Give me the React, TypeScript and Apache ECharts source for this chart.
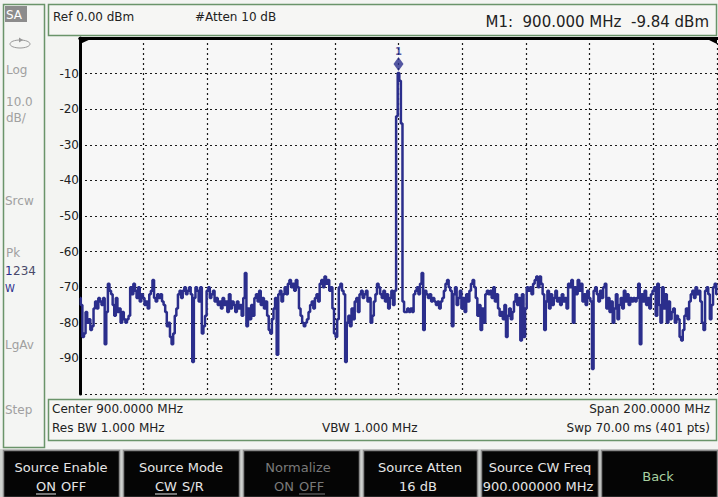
import React, { useEffect, useRef } from "react";
import * as echarts from "echarts";

// Frequency axis (MHz)
const startFreq = 800;
const stopFreq = 1000;
const freqStep = 0.5; // 401 points over 200 MHz
const freqTicks = [800, 820, 840, 860, 880, 900, 920, 940, 960, 980, 1000];

// Amplitude axis (dBm)
const refLevel = 0;
const bottomLevel = -100;
const dbTicks = [-10, -20, -30, -40, -50, -60, -70, -80, -90];

// Trace values (dBm), 401 points
const traceDbm = [
  -73, -75, -84, -83, -77, -80, -79, -82, -81, -76,
  -74, -76, -73, -74, -75, -73, -86, -77, -69, -71,
  -72, -75, -78, -73, -77, -76, -80, -77, -79, -80,
  -79, -78, -70, -72, -69, -71, -73, -70, -74, -72,
  -73, -75, -74, -76, -72, -71, -68, -73, -74, -72,
  -73, -72, -74, -75, -77, -81, -80, -84, -86, -83,
  -78, -76, -72, -71, -73, -71, -70, -72, -71, -70,
  -72, -91, -73, -70, -71, -74, -70, -83, -81, -78,
  -71, -70, -73, -72, -71, -74, -73, -75, -74, -76,
  -73, -75, -74, -77, -72, -76, -74, -75, -77, -74,
  -76, -75, -78, -73, -66, -81, -76, -79, -75, -78,
  -73, -72, -74, -71, -75, -73, -76, -74, -78, -82,
  -83, -79, -76, -73, -89, -72, -71, -74, -72, -70,
  -72, -69, -68, -70, -69, -71, -68, -70, -76, -78,
  -80, -81, -80, -79, -77, -75, -74, -76, -73, -72,
  -74, -69, -68, -70, -67, -69, -68, -71, -70, -76,
  -83, -84, -79, -70, -69, -71, -72, -91, -80, -78,
  -81, -76, -79, -74, -73, -77, -72, -71, -73, -72,
  -71, -74, -73, -80, -78, -74, -72, -69, -70, -72,
  -73, -71, -74, -72, -76, -73, -71, -75, -71, -22,
  -9.84, -12, -24, -74, -77, -77, -76, -77, -76, -77,
  -72, -71, -70, -72, -69, -66, -82, -71, -72, -73,
  -72, -74, -73, -74, -75, -74, -76, -74, -73, -71,
  -69, -68, -70, -71, -81, -72, -70, -75, -73, -71,
  -76, -73, -77, -72, -74, -71, -69, -68, -70, -73,
  -78, -75, -82, -76, -80, -72, -71, -72, -71, -73,
  -70, -74, -72, -76, -78, -77, -79, -75, -84, -78,
  -76, -79, -77, -74, -72, -75, -73, -85, -72, -84,
  -76, -70, -71, -70, -72, -69, -68, -67, -70, -67,
  -69, -72, -82, -74, -71, -76, -72, -75, -73, -71,
  -74, -73, -75, -72, -74, -73, -76, -69, -70, -68,
  -80, -70, -72, -68, -71, -69, -74, -72, -75, -71,
  -73, -74, -93, -71, -70, -72, -74, -71, -73, -70,
  -69, -76, -73, -77, -74, -80, -76, -72, -79, -75,
  -73, -76, -71, -74, -72, -75, -73, -74, -73, -74,
  -73, -69, -86, -72, -74, -71, -75, -73, -76, -72,
  -71, -70, -78, -69, -75, -80, -70, -76, -72, -80,
  -74, -79, -77, -76, -80, -78, -79, -84, -85, -82,
  -78, -76, -79, -74, -72, -71, -73, -70, -72, -71,
  -74, -80, -82, -71, -70, -72, -79, -75, -70, -69, -72,
];

// Marker
const markerFreq = 900;
const markerDbm = -9.84;
const markerName = "1";

// Header / footer texts
const headerLeft = "Ref 0.00 dBm";
const headerMid = "#Atten 10 dB";
const headerRight = "M1:  900.000 MHz  -9.84 dBm";
const infoCenter = "Center 900.0000 MHz";
const infoRbw = "Res BW 1.000 MHz";
const infoVbw = "VBW 1.000 MHz";
const infoSpan = "Span 200.0000 MHz";
const infoSwp = "Swp 70.00 ms (401 pts)";
const sideLabels = ["Log", "10.0", "dB/", "Srcw", "Pk", "LgAv", "Step"];

const TRACE = "#2b2e8c";
const GREEN = "#6a946a";
const FONT = "DejaVu Sans";

export default function App() {
  const ref = useRef<HTMLDivElement>(null);

  useEffect(() => {
    if (!ref.current) return;
    const chart = echarts.init(ref.current, undefined, { renderer: "svg" });
    const traceData = traceDbm.map((v, i) => [startFreq + i * freqStep, v]);

    const txt = (text: string, x: number, y: number, opts: any = {}) => ({
      type: "text",
      x,
      y,
      z: 100,
      style: {
        text,
        fill: opts.fill || "#222",
        fontSize: opts.size || 12,
        fontFamily: FONT,
        fontWeight: opts.weight || "normal",
        textAlign: opts.align || "left",
        textVerticalAlign: "middle",
      },
    });

    const softkeys = [
      { x: 3, w: 117 },
      { x: 123, w: 117 },
      { x: 243, w: 117 },
      { x: 363, w: 115 },
      { x: 481, w: 118 },
      { x: 601, w: 117 },
    ];

    const graphics: any[] = [
      // left side panel
      { type: "rect", shape: { x: 3.5, y: 4.5, width: 41, height: 443 }, style: { fill: "#f4f5f3", stroke: GREEN, lineWidth: 1.5 }, z: 1 },
      { type: "rect", shape: { x: 5, y: 6, width: 22, height: 16 }, style: { fill: "#8c8c8c" }, z: 2 },
      txt("SA", 6, 14.5, { fill: "#fff", size: 12 }),
      { type: "ellipse", shape: { cx: 20, cy: 44, rx: 10, ry: 4 }, style: { fill: "none", stroke: "#999", lineWidth: 1 }, z: 2 },
      { type: "polygon", shape: { points: [[19, 37.5], [23, 40], [19, 42.5]] }, style: { fill: "#999" }, z: 2 },
      txt(sideLabels[0], 6, 70, { fill: "#a0a0a0" }),
      txt(sideLabels[1], 6, 102, { fill: "#a0a0a0" }),
      txt(sideLabels[2], 6, 118, { fill: "#a0a0a0" }),
      txt(sideLabels[3], 5, 201, { fill: "#a0a0a0" }),
      txt(sideLabels[4], 6, 253, { fill: "#a0a0a0" }),
      txt("1", 5, 271, { fill: TRACE, size: 12 }),
      txt("234", 13, 271, { fill: "#4a4a6a", size: 12 }),
      txt("W", 5, 288, { fill: TRACE, size: 10 }),
      txt(sideLabels[5], 5, 345, { fill: "#a0a0a0" }),
      txt(sideLabels[6], 5, 410, { fill: "#a0a0a0" }),
      // header
      { type: "rect", shape: { x: 48.5, y: 4.5, width: 668, height: 31 }, style: { fill: "#f6f6f4", stroke: GREEN, lineWidth: 1.5 }, z: 1 },
      txt(headerLeft, 53, 17, { size: 12 }),
      txt(headerMid, 195, 17, { size: 12 }),
      txt(headerRight, 709, 22, { size: 15, align: "right" }),
      // info box
      { type: "rect", shape: { x: 48.5, y: 399.5, width: 668, height: 41 }, style: { fill: "#f6f6f4", stroke: GREEN, lineWidth: 1.5 }, z: 1 },
      txt(infoCenter, 52, 409, { size: 12 }),
      txt(infoRbw, 52, 428, { size: 12 }),
      txt(infoVbw, 322, 428, { size: 12 }),
      txt(infoSpan, 710, 409, { size: 12, align: "right" }),
      txt(infoSwp, 710, 428, { size: 12, align: "right" }),
      // softkey strip background
      { type: "rect", shape: { x: 0, y: 449, width: 718, height: 48 }, style: { fill: "#cfd2cf" }, z: 1 },
      ...softkeys.map((k) => ({
        type: "rect",
        shape: { x: k.x + 0.5, y: 450.5, width: k.w - 1, height: 47 },
        style: { fill: "#050505", stroke: "#8a8a8a", lineWidth: 1.5 },
        z: 2,
      })),
      txt("Source Enable", 61, 467, { fill: "#e6e6e6", size: 13, align: "center" }),
      txt("ON", 36, 486, { fill: "#e6e6e6", size: 13 }),
      txt("OFF", 61, 486, { fill: "#e6e6e6", size: 13 }),
      { type: "line", shape: { x1: 36, y1: 494, x2: 56, y2: 494 }, style: { stroke: "#e6e6e6", lineWidth: 1 }, z: 100 },
      txt("Source Mode", 181, 467, { fill: "#e6e6e6", size: 13, align: "center" }),
      txt("CW", 155, 486, { fill: "#e6e6e6", size: 13 }),
      txt("S/R", 182, 486, { fill: "#e6e6e6", size: 13 }),
      { type: "line", shape: { x1: 155, y1: 494, x2: 177, y2: 494 }, style: { stroke: "#e6e6e6", lineWidth: 1 }, z: 100 },
      txt("Normalize", 298, 467, { fill: "#7a7a7a", size: 13, align: "center" }),
      txt("ON", 274, 486, { fill: "#7a7a7a", size: 13 }),
      txt("OFF", 299, 486, { fill: "#7a7a7a", size: 13 }),
      { type: "line", shape: { x1: 299, y1: 494, x2: 325, y2: 494 }, style: { stroke: "#7a7a7a", lineWidth: 1 }, z: 100 },
      txt("Source Atten", 420, 467, { fill: "#e6e6e6", size: 13, align: "center" }),
      txt("16 dB", 418, 486, { fill: "#e6e6e6", size: 13, align: "center" }),
      txt("Source CW Freq", 540, 467, { fill: "#e6e6e6", size: 13, align: "center" }),
      txt("900.000000 MHz", 538, 486, { fill: "#e6e6e6", size: 13, align: "center" }),
      txt("Back", 658, 476, { fill: "#a8d0a0", size: 13, align: "center" }),
      // corner marks of graticule
      { type: "polygon", shape: { points: [[80, 38], [93, 38], [80, 44]] }, style: { fill: "#000" }, z: 50 },
      { type: "polygon", shape: { points: [[717, 38], [705, 38], [717, 44]] }, style: { fill: "#000" }, z: 50 },
    ];

    const dotted = { show: true, lineStyle: { type: [2, 3] as any, color: "#1a1a1a", width: 1.2 } };

    chart.setOption({
      animation: false,
      backgroundColor: "#f3f4f2",
      grid: {
        left: 80,
        top: 38,
        right: 1,
        bottom: 103,
        show: true,
        backgroundColor: "#f7f7f7",
        borderWidth: 0,
      },
      xAxis: [
        {
          type: "value",
          min: startFreq,
          max: stopFreq,
          interval: freqTicks[1] - freqTicks[0],
          axisLine: { show: true, lineStyle: { color: "#000", width: 3 } },
          axisTick: { show: false },
          axisLabel: { show: false },
          splitLine: dotted,
        },
        {
          type: "value",
          position: "top",
          min: startFreq,
          max: stopFreq,
          interval: freqTicks[1] - freqTicks[0],
          axisLine: { show: true, lineStyle: { color: "#000", width: 3 } },
          axisTick: { show: false },
          axisLabel: { show: false },
          splitLine: { show: false },
        },
      ],
      yAxis: {
        type: "value",
        min: bottomLevel,
        max: refLevel,
        interval: 10,
        axisLine: { show: true, onZero: false, lineStyle: { color: "#000", width: 3 } },
        axisTick: { show: false },
        axisLabel: {
          margin: 1,
          color: "#222",
          fontSize: 12,
          fontFamily: FONT,
          formatter: (v: number) => (dbTicks.includes(v) ? String(v) : ""),
        },
        splitLine: dotted,
      },
      series: [
        {
          type: "line",
          data: traceData,
          step: "middle",
          showSymbol: false,
          lineStyle: { color: TRACE, width: 2.5 },
          z: 10,
        },
        {
          type: "scatter",
          data: [[markerFreq, markerDbm]],
          symbol: "diamond",
          symbolSize: [10, 14],
          symbolOffset: [0, -9],
          itemStyle: { color: TRACE },
          label: {
            show: true,
            position: "top",
            distance: 1,
            formatter: markerName,
            color: TRACE,
            fontSize: 10,
            fontWeight: "bold",
            fontFamily: FONT,
          },
          z: 11,
        },
      ],
      graphic: graphics,
    });

    return () => chart.dispose();
  }, []);

  return (
    <div
      ref={ref}
      style={{ position: "fixed", left: 0, top: 0, width: 718, height: 497 }}
    />
  );
}
